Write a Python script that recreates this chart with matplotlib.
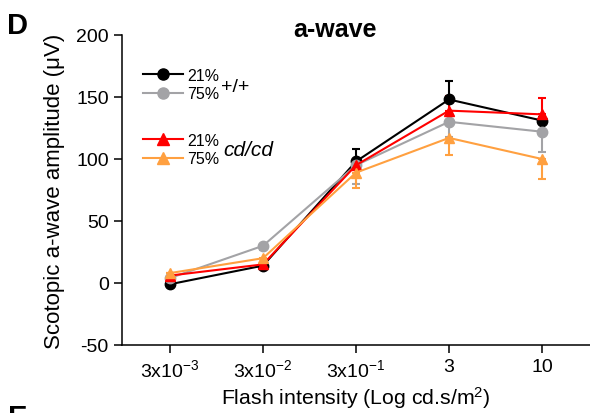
import matplotlib
matplotlib.use("Agg")
import matplotlib.pyplot as plt
from matplotlib.lines import Line2D

plt.rcParams['font.family'] = ['Liberation Sans', 'DejaVu Sans']
plt.rcParams['mathtext.fontset'] = 'custom'
plt.rcParams['mathtext.rm'] = 'Liberation Sans'
plt.rcParams['mathtext.it'] = 'Liberation Sans:italic'
plt.rcParams['mathtext.bf'] = 'Liberation Sans:bold'
plt.rcParams['axes.unicode_minus'] = False

# Flash intensities (categorical positions)
intensities = ['3x10$^{\\mathregular{-3}}$', '3x10$^{\\mathregular{-2}}$',
               '3x10$^{\\mathregular{-1}}$', '3', '10']

# Mean scotopic a-wave amplitudes (µV)
wt_21 = [-1, 14, 98, 148, 131]
wt_75 = [4, 30, 95, 130, 122]
cd_21 = [6, 15, 95, 139, 136]
cd_75 = [8, 20, 89, 117, 100]

# One-sided SEM (upper for 21%, lower for 75%)
wt_21_err = [2, 2, 10, 15, 3]
wt_75_err = [2, 3, 15, 12, 16]
cd_21_err = [2, 2, 3, 12, 13]
cd_75_err = [2, 3, 12, 14, 16]

c_black = '#000000'
c_gray = '#a3a3a6'
c_red = '#ff0000'
c_orange = '#ffa040'

fig = plt.figure(figsize=(5.90, 4.14), dpi=100)
ax = fig.add_axes([122 / 590, 1 - 346 / 414, 1 - 122 / 590, (346 - 36) / 414])

x = list(range(len(intensities)))
series = [
    (wt_21, wt_21_err, c_black, 'o', 'up'),
    (wt_75, wt_75_err, c_gray, 'o', 'down'),
    (cd_21, cd_21_err, c_red, '^', 'up'),
    (cd_75, cd_75_err, c_orange, '^', 'down'),
]
handles = []
for vals, err, col, mk, side in series:
    zeros = [0] * len(err)
    yerr = [zeros, err] if side == 'up' else [err, zeros]
    ax.errorbar(x, vals, yerr=yerr, color=col, marker=mk, markersize=7.5,
                linewidth=1.5, elinewidth=1.5, capsize=3, capthick=1.5)
    handles.append(Line2D([], [], color=col, marker=mk, markersize=8, linewidth=1.5))

ax.set_xlim(-0.516, 4.516)
ax.set_ylim(-50, 200)
ax.set_yticks([-50, 0, 50, 100, 150, 200])
ax.set_xticks(x)
ax.set_xticklabels(intensities)
for s in ['top', 'right']:
    ax.spines[s].set_visible(False)
for s in ['left', 'bottom']:
    ax.spines[s].set_linewidth(1.1)
ax.tick_params(axis='both', direction='out', length=5.5, width=1.1, labelsize=14, pad=4)

ax.set_ylabel('Scotopic a-wave amplitude (\u03bcV)', fontsize=16, labelpad=8)
ax.set_xlabel('Flash intensity (Log cd.s/m$^{\\mathregular{2}}$)', fontsize=15.3, labelpad=3)

# Legends grouped by genotype
leg_kw = dict(frameon=False, fontsize=11.5, handlelength=2.5, handletextpad=0.25,
              labelspacing=0.2, borderpad=0, borderaxespad=0, loc='upper left')
leg1 = ax.legend(handles[:2], ['21%', '75%'],
                 bbox_to_anchor=(143 / 590, 1 - 69 / 414), bbox_transform=fig.transFigure, **leg_kw)
ax.add_artist(leg1)
ax.legend(handles[2:], ['21%', '75%'],
          bbox_to_anchor=(143 / 590, 1 - 134 / 414), bbox_transform=fig.transFigure, **leg_kw)
fig.text(221 / 590, 1 - 87 / 414, '+/+', fontsize=14, va='center', ha='left')
fig.text(223 / 590, 1 - 150 / 414, 'cd/cd', fontsize=15, style='italic', va='center', ha='left')

fig.text(335 / 590, 1 - 37 / 414, 'a-wave', fontsize=18, fontweight='bold', ha='center', va='baseline')
fig.text(7 / 590, 1 - 34 / 414, 'D', fontsize=21, fontweight='bold', ha='left', va='baseline')
fig.text(8 / 590, 1 - 404 / 414, 'E', fontsize=21, fontweight='bold', ha='left', va='top')

fig.savefig('out.png', dpi=100)
